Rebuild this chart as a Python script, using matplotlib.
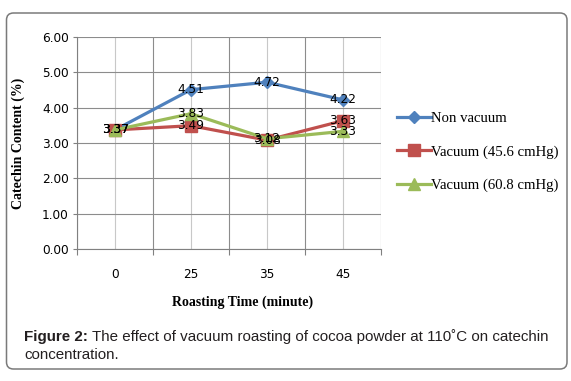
import numpy as np
import matplotlib
matplotlib.use("Agg")
import matplotlib.pyplot as plt
from matplotlib.patches import FancyBboxPatch
from matplotlib.transforms import IdentityTransform

# ===== data =====
times = ["0", "25", "35", "45"]
non_vacuum = [3.37, 4.51, 4.72, 4.22]
vac_456 = [3.37, 3.49, 3.08, 3.63]
vac_608 = [3.37, 3.83, 3.12, 3.33]
series_names = ["Non vacuum", "Vacuum (45.6 cmHg)", "Vacuum (60.8 cmHg)"]
y_ticks = [0, 1, 2, 3, 4, 5, 6]

BLUE, RED, GREEN = "#4F81BD", "#C0504D", "#9BBB59"
SERIF = "Liberation Serif"
SANS = "DejaVu Sans"
CAPTION = "Liberation Sans"

fig = plt.figure(figsize=(5.71, 3.81), dpi=100)
ax = fig.add_axes([77 / 571, 1 - 249 / 381, 304 / 571, 212 / 381])

x = np.arange(len(times))
styles = [(non_vacuum, BLUE, "D", 6.5),
          (vac_456, RED, "s", 8.5),
          (vac_608, GREEN, "^", 8)]
handles = []
for (vals, col, mk, ms), name in zip(styles, series_names):
    h, = ax.plot(x, vals, color=col, lw=2.3, marker=mk, ms=ms, mec=col, mfc=col,
                 label=name, zorder=3, clip_on=False)
    handles.append(h)

# data labels centered on points
for vals in [non_vacuum, vac_456, vac_608]:
    for xi, v in zip(x, vals):
        ax.text(xi, v, f"{v:.2f}", ha="center", va="center", fontsize=8.7,
                family=SANS, color="black", zorder=5)

ax.set_xlim(-0.5, len(times) - 0.5)
ax.set_ylim(0, 6)
ax.set_yticks(y_ticks)
ax.set_yticklabels([f"{v:.2f}" for v in y_ticks], fontsize=8.7, family=SANS)

# boundaries as major ticks, categories as minor (labels)
ax.set_xticks(np.arange(-0.5, len(times), 1.0))
ax.set_xticklabels([])
ax.set_xticks(x, minor=True)
ax.set_xticklabels(times, minor=True, fontsize=8.7, family=SANS)
ax.tick_params(axis="x", which="major", length=4, color="#808080", width=0.8)
ax.tick_params(axis="x", which="minor", length=0, pad=14)
ax.tick_params(axis="y", length=3, color="#808080", width=0.8, pad=3)

ax.grid(axis="y", color="#8c8c8c", lw=0.8)
ax.grid(axis="x", which="major", color="#8c8c8c", lw=0.8)
ax.grid(axis="x", which="minor", color="#c8c8c8", lw=0.8)
ax.set_axisbelow(True)
for s in ["top", "right"]:
    ax.spines[s].set_visible(False)
for s in ["left", "bottom"]:
    ax.spines[s].set_color("#808080")
    ax.spines[s].set_linewidth(0.8)

ax.set_ylabel("Catechin Content (%)", fontsize=10, family=SERIF, fontweight="bold")
ax.yaxis.set_label_coords(-52 / 304, 0.5)
fig.text(243 / 571, 1 - 302 / 381, "Roasting Time (minute)", ha="center", va="center",
         fontsize=10, family=SERIF, fontweight="bold")

fig.legend(handles=handles, loc="upper left", bbox_to_anchor=(391 / 571, 1 - 106 / 381),
           frameon=False, prop={"family": SERIF, "size": 10.6}, handlelength=2.3,
           handletextpad=0.05, labelspacing=1.35, borderaxespad=0)

# caption
t1 = fig.text(24 / 571, 1 - 337 / 381, "Figure 2:", ha="left", va="center",
              fontsize=10.9, family=CAPTION, fontweight="bold", color="#231f20")
ax.annotate(" The effect of vacuum roasting of cocoa powder at 110˚C on catechin",
            xy=(1, 0.5), xycoords=t1, ha="left", va="center", fontsize=10.9,
            family=CAPTION, color="#231f20", annotation_clip=False)
fig.text(24 / 571, 1 - 355 / 381, "concentration.", ha="left", va="center",
         fontsize=10.9, family=CAPTION, color="#231f20")

frame = FancyBboxPatch((6.5, 12), 560.5, 356, boxstyle="round,pad=0,rounding_size=7",
                       transform=IdentityTransform(), fc="none", ec="#7a7a7a", lw=1.1)
fig.add_artist(frame)

fig.savefig("out.png", dpi=100)
